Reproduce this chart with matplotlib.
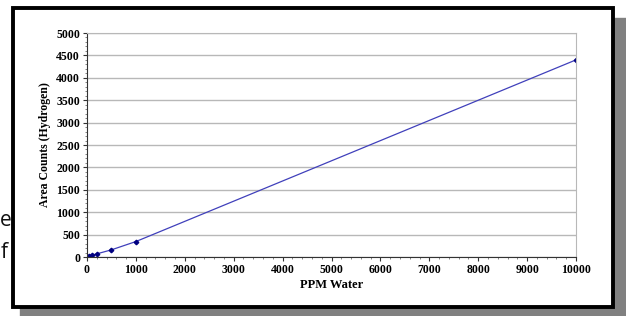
import matplotlib.pyplot as plt
from matplotlib.patches import Rectangle
from matplotlib.ticker import MultipleLocator

# calibration data
ppm = [0, 25, 50, 100, 200, 500, 1000, 10000]
counts = [0, 10, 22, 40, 70, 160, 345, 4400]

xticks = list(range(0, 10001, 1000))
yticks = list(range(0, 5001, 500))

W, H = 626, 316
fig = plt.figure(figsize=(W / 100, H / 100), dpi=100)
fig.patch.set_facecolor('white')

# shadow and frame
fig.patches.append(Rectangle((20 / W, 0), (W - 20) / W, 12 / H, transform=fig.transFigure,
                             color='#808080', zorder=0))
fig.patches.append(Rectangle((614 / W, 0), 12 / W, (H - 18) / H, transform=fig.transFigure,
                             color='#808080', zorder=0))
fig.patches.append(Rectangle((13 / W, 9 / H), 600 / W, 299 / H, transform=fig.transFigure,
                             facecolor='white', edgecolor='black', lw=2.8, zorder=1))

# slide text peeking out on the left
fig.text(0, 1 - 220 / H, 'e', fontsize=15, family='Open Sans', va='center', ha='left', color='#111111')
fig.text(0.5 / W, 1 - 252 / H, 'f', fontsize=15, family='Open Sans', va='center', ha='left', color='#111111')

ax = fig.add_axes([87 / W, 1 - 257 / H, (576 - 87) / W, (257 - 33) / H])
ax.set_zorder(2)
ax.set_facecolor('white')

ax.plot(ppm, counts, color='#4040bb', lw=0.9, marker='D', markersize=2.3,
        markerfacecolor='#000080', markeredgecolor='#000080')

ax.set_xlim(0, 10000)
ax.set_ylim(0, 5000)
ax.set_xticks(xticks)
ax.set_yticks(yticks)
ax.xaxis.set_minor_locator(MultipleLocator(200))
ax.yaxis.set_minor_locator(MultipleLocator(100))
ax.grid(axis='y', color='#b8b8b8', lw=1)
ax.set_axisbelow(True)

for s in ['top', 'right']:
    ax.spines[s].set_color('#b8b8b8')
for s in ['left', 'bottom']:
    ax.spines[s].set_color('#333333')
    ax.spines[s].set_linewidth(0.8)

font = dict(family='Liberation Serif', weight='bold', size=8.5)
ax.set_xticklabels([str(v) for v in xticks], **font)
ax.set_yticklabels([str(v) for v in yticks], **font)
ax.tick_params(which='major', length=3, width=0.8, color='#333333', pad=2)
ax.tick_params(which='minor', length=1.5, width=0.5, color='#555555')

ax.set_xlabel('PPM Water', family='Liberation Serif', weight='bold', size=9, labelpad=2)
ax.set_ylabel('Area Counts (Hydrogen)', family='Liberation Serif', weight='bold', size=8.5, labelpad=4)

fig.savefig('out.png', dpi=100)
